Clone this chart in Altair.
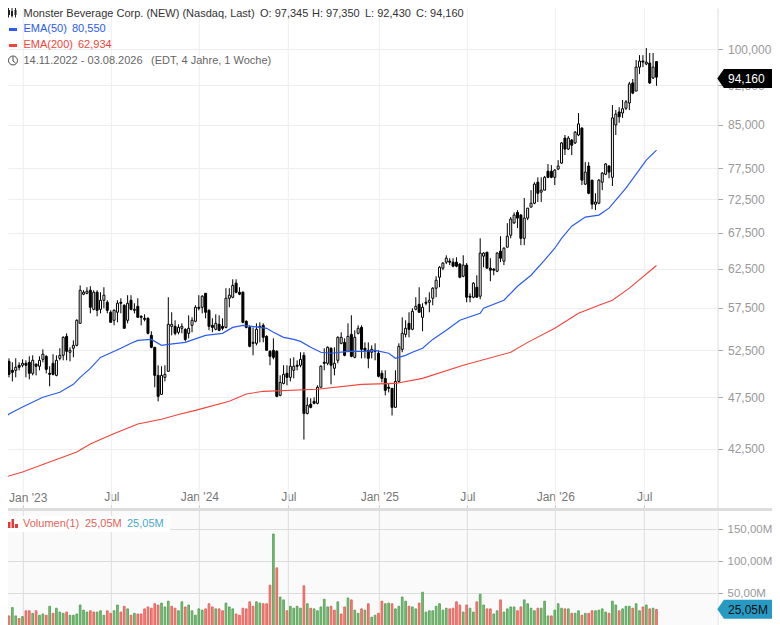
import json
import altair as alt
import pandas as pd

body_high = [49.75,51.6,51.93,51.27,50.29,50.62,50.84,51.05,51.05,51.16,
51.38,50.95,51.38,52.05,51.82,49.97,51.05,51.38,51.93,53.97,
54.08,52.49,53.05,55.97,59.69,59.43,59.56,59.69,59.43,59.43,
58.42,59.06,58.17,56.94,57.18,58.05,58.17,57.8,58.05,58.42,
57.3,57.67,56.45,56.21,56.21,54.2,52.83,49.75,49.75,49.86,
55.49,55.49,55.25,55.13,55.25,54.9,55.02,55.97,57.55,57.55,
58.93,59.3,57.18,55.37,55.61,55.49,55.25,58.67,59.06,60.3,
60.6,59.43,59.43,55.85,55.13,53.39,54.9,55.25,55.37,54.08,
52.38,52.49,52.38,49.0,49.86,49.97,50.73,50.73,50.84,51.49,
51.93,46.66,46.76,47.06,48.5,50.73,51.16,52.83,52.72,51.05,
53.97,53.97,53.39,54.08,54.31,53.97,55.02,55.13,52.72,52.49,
52.6,52.49,52.16,49.97,49.43,48.5,48.39,49.11,52.94,54.43,
55.02,55.61,57.06,57.67,57.92,57.55,58.17,58.42,59.95,60.98,
62.7,63.25,63.92,63.52,63.38,63.38,63.12,62.98,62.98,58.93,
60.6,60.07,64.62,64.62,64.75,62.57,62.44,64.62,64.89,65.3,
67.0,69.5,70.1,70.5,70.1,69.65,71.15,71.9,74.9,75.2,
73.94,76.0,77.0,77.0,77.18,77.85,81.8,82.65,82.65,82.3,
83.7,85.2,84.43,76.85,77.85,75.54,72.08,75.54,76.68,78.2,
77.85,86.3,87.0,87.4,88.0,89.3,92.8,93.0,96.2,97.46,
97.46,97.25,97.05,96.2,97.345]

body_low = [49.22,49.86,51.7,49.86,50.08,50.29,50.62,50.84,50.84,49.97,
49.97,50.73,50.73,51.49,50.4,49.86,49.86,49.75,51.6,51.93,
52.38,52.27,52.72,53.05,55.61,59.18,59.3,57.55,57.3,57.18,
57.3,58.42,57.18,55.73,55.97,56.94,58.05,55.02,55.97,57.3,
57.18,56.33,56.33,56.09,54.43,52.83,49.75,47.57,47.77,49.54,
50.18,55.25,54.43,54.55,55.02,53.73,54.43,55.37,55.85,57.43,
57.55,56.94,55.25,55.13,54.9,54.79,55.02,55.13,58.67,58.8,
59.43,59.18,55.73,55.13,52.94,53.28,53.28,55.13,53.97,52.49,
51.82,51.71,47.57,47.67,48.9,49.54,49.54,50.29,50.73,50.84,
45.86,45.86,46.46,46.86,46.86,48.5,51.05,51.05,50.84,50.51,
51.38,53.28,51.93,52.38,51.82,51.71,54.43,52.6,52.49,51.6,
52.27,52.38,49.65,49.43,48.18,48.39,46.46,46.46,49.11,52.6,
54.31,54.9,54.9,57.3,56.94,56.33,58.05,58.17,58.67,59.95,
61.37,62.57,63.38,63.38,62.84,62.84,61.37,61.5,58.8,58.8,
58.8,58.8,58.93,64.2,62.57,62.3,62.3,62.17,63.92,63.52,
65.44,67.14,68.93,69.65,66.7,66.7,69.65,71.3,71.9,73.45,
73.62,73.94,76.0,76.0,76.0,77.35,78.35,80.73,80.73,81.4,
81.8,83.2,75.54,74.9,73.45,71.75,71.75,71.9,75.2,76.5,
76.85,76.0,85.0,86.5,87.2,88.1,89.1,91.0,91.4,96.2,
97.25,96.84,93.0,94.0,94.16]

highs = [49.97,52.05,52.16,51.6,51.16,51.6,51.16,51.49,51.38,51.82,
51.93,51.05,51.82,52.6,51.93,50.73,52.05,51.93,52.72,54.08,
54.43,52.83,53.62,56.09,60.3,59.69,60.07,60.2,59.69,59.69,
59.43,60.07,58.42,57.18,57.3,58.42,58.67,57.92,59.06,59.06,
58.05,58.67,56.57,56.69,56.33,54.67,52.83,50.84,50.73,50.84,
58.8,56.94,55.97,55.49,55.61,55.02,56.57,56.33,57.8,59.06,
59.06,59.3,57.3,56.21,56.69,56.57,56.21,59.95,59.95,61.1,
61.1,60.07,59.56,55.97,55.37,55.13,55.61,55.73,55.61,54.2,
52.49,53.85,52.49,49.75,50.84,50.84,51.6,51.71,51.38,52.27,
52.27,47.47,47.37,47.47,48.7,50.84,52.72,52.94,52.83,52.83,
54.08,54.55,53.85,55.61,56.57,54.79,55.37,55.37,53.39,53.39,
53.05,53.28,52.49,50.29,50.29,48.9,48.39,50.29,53.28,56.33,
55.97,56.94,57.43,58.8,60.07,58.05,58.8,59.43,60.07,61.5,
62.83,63.38,64.32,63.92,63.92,64.05,63.25,64.32,63.25,59.3,
60.72,61.63,66.7,64.75,64.75,63.92,62.57,64.75,67.0,65.44,
68.9,69.8,70.5,70.84,70.25,72.7,71.15,73.94,75.2,76.0,
76.0,76.2,78.2,78.0,77.35,78.85,81.95,83.2,83.0,82.5,
83.9,87.2,84.6,78.5,78.5,75.54,73.45,75.7,76.85,78.35,
78.0,88.7,87.76,88.3,89.66,89.66,93.2,93.8,97.67,98.7,
98.7,100.2,99.15,99.15,97.35]

lows = [48.28,49.75,49.54,49.54,49.11,49.54,50.29,50.62,49.54,49.33,
49.75,49.75,50.29,51.16,49.97,48.6,49.75,49.65,51.38,51.38,
51.38,51.27,51.71,52.94,55.61,59.06,59.18,56.81,57.18,56.45,
56.81,57.43,56.81,55.73,55.37,55.73,56.81,55.02,55.61,57.18,
56.81,56.33,55.37,55.85,54.31,52.72,48.5,47.06,47.77,49.11,
50.18,54.2,54.2,54.31,54.43,53.5,53.85,54.55,55.73,57.18,
56.81,56.21,54.79,54.55,54.79,54.67,54.79,55.02,57.55,58.67,
59.3,59.06,55.61,55.02,52.83,51.93,53.05,53.39,53.39,52.49,
50.84,51.49,47.47,47.57,48.8,48.7,49.11,49.43,50.29,50.62,
43.37,45.76,46.36,46.76,46.76,48.5,50.29,50.84,48.8,49.75,
51.05,53.17,51.82,52.27,51.71,51.6,54.31,51.6,51.6,50.51,
51.6,51.38,49.54,49.0,47.67,47.97,45.66,46.46,49.0,52.27,
53.97,53.97,54.79,57.18,56.94,54.67,57.8,56.94,57.8,58.8,
60.07,62.3,63.12,62.98,62.7,62.7,61.24,61.37,58.17,58.17,
58.67,58.8,58.55,62.7,62.57,60.85,61.63,62.04,63.38,62.98,
65.44,66.7,68.8,68.16,65.73,65.73,69.34,71.3,71.75,72.08,
72.08,73.94,75.85,75.85,74.75,77.18,78.2,79.7,80.56,79.7,
81.6,83.0,74.75,74.75,73.3,71.0,70.84,71.75,73.94,76.35,
75.85,74.6,83.2,85.4,86.3,87.76,87.76,90.8,91.4,94.8,
96.2,96.6,92.8,93.8,92.43]

rising = ("UUDDDUDUDD" "UDUUDDDUUU" "DUUUUUUDUD" "UUDDUUDDUD" "UDDDDDDDUU"
          "UUDUUDUUUD" "UDDDUDDUUU" "DDDDDUUUDD" "DDDUUDUUDU" "DUDDUUDUDU"
          "UUDUDUUDDD" "UDDDDDDUUU" "UDUUDUDUUU" "UUUDDDDUDD" "UDUUDDDUDU"
          "UUUDDUUUUD" "UUDDUUUDUD" "UUDUDDUUUU" "DUUDUUUDUU" "DUDUD")

volumes = [12,18,27,15,28,15,11,14,23,23,19,
23,16,18,16,30,19,27,21,19,21,
16,16,18,32,24,21,23,21,21,23,
16,23,19,23,32,21,30,26,16,19,
18,18,26,29,27,34,32,35,29,38,
30,27,23,37,29,32,23,16,26,24,
26,34,29,26,26,23,35,29,26,18,
16,27,26,37,30,37,35,34,34,63,
143,90,44.5,40,23,30,27,30,27,62,
34,27,26,23,29,41,29,30,24,37,
18,29,43,40,24,19,26,24,34,13,
16,19,38,34,35,
34,26,30,44.5,38,30,29,26,35,52,
21,23,23,30,34,24,27,26,27,37,
32,21,32,27,21,37,49,32,26,26,
18,23,40,21,26,29,29,23,29,40,
34,27,23,27,27,38,15,15,24,34,
27,26,26,19,19,23,16,19,19,23,
23,24,26,21,19,38,32,23,26,30,
30,27,34,23,29,32,26,27,25.05]

vol_side = ("G" "GGRGGRGRRG" "RGGRGRGGGR" "GGGGGGRRGG" "GRRGGRRGRG"
            "RRRRRRRGGG" "RRGGRGGGGG" "RRRGRRGGGR" "RRRRRGGRRR"
            "GRGGRGGGGR" "GRGGGGGRRG" "RRGRGGRGRG" "GRRGG"
            "RGGGGRGGRG" "GGGGGGGRRR" "RGRGGRGGRR" "GGRGGGGRRG"
            "GGGRGGGRGG" "GRGRGGRGRR" "GGGGRGGRGG" "GRGGRGRGR")

ema50_idx = [0,3,7,13,18,22,24,27,30,36,39,41,45,48,50,55,61,66,69,72,77,79,81,84,87,89,92,95,98,103,108,111,115,117,120,122,125,128,132,136,142,143,149,153,157,161,164,166,169,173,177,180,185,191,194]
ema50_val = [44.9,45.8,46.5,47.47,47.98,48.8,49.54,50.5,51.7,52.72,53.28,53.62,53.73,53.05,53.17,53.39,54.2,54.43,55.13,55.37,55.13,55.02,54.55,53.97,53.73,53.5,52.83,52.27,52.16,52.38,52.38,52.49,52.16,51.6,51.93,52.27,52.72,53.73,54.79,55.97,56.81,57.43,58.42,60.2,61.63,63.65,65.3,66.7,68.45,69.8,70.1,71.15,74.25,78.85,80.55]
ema200_idx = [0,7,15,23,27,33,41,48,53,58,68,73,78,94,107,117,125,137,151,156,164,171,177,181,186,194]
ema200_val = [39.86,40.46,41.34,42.23,42.96,43.8,44.84,45.3,45.76,46.16,47.06,47.8,48.08,48.3,48.8,48.9,49.43,50.84,52.27,53.39,55.02,56.81,57.8,58.42,59.95,62.93]

price_ticks = [42.5,47.5,52.5,57.5,62.5,67.5,72.5,77.5,85,92.5,100]
vol_ticks = [50,100,150]
time_ticks = [7.23,33.2,59.15,85.4,112.25,138.2,164.15,190.4]
time_labels = ["Jan '23","Jul","Jan '24","Jul","Jan '25","Jul","Jan '26","Jul"]

FONT = "Liberation Sans"
W, H = 709.5, 617
PANEL = 500
VTOP = 503

df = pd.DataFrame({"i": range(len(highs)), "bh": body_high, "bl": body_low, "hi": highs, "lo": lows,
                   "fill": ["white" if s == "U" else "black" for s in rising]})
vdf = pd.DataFrame({"i": range(len(volumes)), "vol": volumes,
                    "fill": ["#7cbe7c" if s == "G" else "#f0837d" for s in vol_side],
                    "stroke": ["#57a157" if s == "G" else "#e85f58" for s in vol_side]})
tdf = pd.DataFrame({"i": time_ticks})
e50 = pd.DataFrame({"i": ema50_idx, "v": ema50_val})
e200 = pd.DataFrame({"i": ema200_idx, "v": ema200_val})
one = pd.DataFrame({"a": [0]})

xs = alt.Scale(domain=[2.714, 212.0], nice=False, zero=False, padding=0)
# the first label would be cut by the page margin, so it is drawn separately just inside the chart
label_expr = "%s[indexof(%s, datum.value)]" % (json.dumps([""] + time_labels[1:]), json.dumps(time_ticks))
x_axis = alt.Axis(orient="top", offset=-PANEL, values=time_ticks, labelExpr=label_expr, title=None, grid=False,
                  domain=False, tickSize=3, tickColor="#555555", labelColor="#777777", labelFont=FONT,
                  labelFontSize=12, labelPadding=2, labelOverlap=False, labelFlush=False, labelBound=False)
X = alt.X("i:Q", scale=xs, axis=x_axis)

ps = alt.Scale(type="log", domain=[37.46, 109.17], range=[PANEL, 0], nice=False)
p_axis = alt.Axis(orient="right", values=price_ticks, title=None, grid=True, gridColor="#eeeeee", gridWidth=1,
                  domainColor="#dddddd", tickColor="#aaaaaa", tickSize=5, labelColor="#999999", labelFont=FONT,
                  labelFontSize=12, labelPadding=5, labelOverlap=False, labelFlush=False, labelBound=False,
                  labelExpr="replace(format(datum.value,'.3f'),'.',',')")
vs = alt.Scale(domain=[0, 178.9], range=[617.5, VTOP], nice=False, zero=True)
v_axis = alt.Axis(orient="right", values=vol_ticks, title=None, grid=False, domainColor="#dddddd",
                  tickColor="#aaaaaa", tickSize=5, labelColor="#999999", labelFont=FONT, labelFontSize=11.5,
                  labelPadding=4.5, labelOverlap=False, labelFlush=False, labelBound=False,
                  labelExpr="replace(format(datum.value,'.2f'),'.',',')+'M'")


def S(v):
    return v - 8


def rect(x1, y1, x2, y2, color):
    return alt.Chart(one).mark_rect(color=color).encode(
        x=alt.value(S(x1)), x2=alt.value(S(x2)), y=alt.value(S(y1)), y2=alt.value(S(y2)))


def line(x1, y1, x2, y2, color, w=1):
    return alt.Chart(one).mark_rule(color=color, strokeWidth=w).encode(
        x=alt.value(S(x1)), x2=alt.value(S(x2)), y=alt.value(S(y1)), y2=alt.value(S(y2)))


def txt(x, y, s, color, size=11):
    return alt.Chart(one).mark_text(text=s, color=color, fontSize=size, font=FONT, align="left",
                                    baseline="middle").encode(x=alt.value(S(x)), y=alt.value(S(y)))


def tag(cx, cy, color):
    return alt.Chart(one).mark_point(shape="M-3.32,0L-2.62,-1L3.32,-1L3.32,1L-2.62,1Z", size=361, filled=True,
                                     fill=color, stroke=None, opacity=1).encode(
        x=alt.value(S(cx)), y=alt.value(S(cy)))


# volume panel
vol_layer = alt.layer(
    rect(0, 511, 717.5, 625, "#fafafa"),
    alt.Chart(tdf).mark_rule(color="#dddddd").encode(x=X, y=alt.value(VTOP), y2=alt.value(H)),
    alt.Chart(pd.DataFrame({"v": vol_ticks})).mark_rule(color="#dddddd").encode(
        y=alt.Y("v:Q", scale=vs, axis=v_axis), x=alt.value(0), x2=alt.value(W)),
    alt.Chart(vdf).mark_bar(size=1.7, strokeWidth=0.9).encode(
        x=X, y=alt.Y("vol:Q", scale=vs, axis=v_axis),
        fill=alt.Fill("fill:N", scale=None), stroke=alt.Stroke("stroke:N", scale=None)),
)

# price panel
P = alt.Y("lo:Q", scale=ps, axis=p_axis)
price_layer = alt.layer(
    alt.Chart(tdf).mark_rule(color="#eeeeee").encode(x=X, y=alt.value(0), y2=alt.value(PANEL)),
    alt.Chart(df).mark_rule(color="black", strokeWidth=1).encode(x=X, y=P, y2="hi:Q"),
    alt.Chart(df).mark_bar(size=2, stroke="black", strokeWidth=1).encode(
        x=X, y=alt.Y("bl:Q", scale=ps, axis=p_axis), y2="bh:Q", fill=alt.Fill("fill:N", scale=None)),
    alt.Chart(e200).mark_line(color="#f4433a", strokeWidth=1.1).encode(x=X, y=alt.Y("v:Q", scale=ps, axis=p_axis)),
    alt.Chart(e50).mark_line(color="#2a5cf0", strokeWidth=1.2).encode(x=X, y=alt.Y("v:Q", scale=ps, axis=p_axis)),
)

overlay = alt.layer(
    rect(0, 508, 780, 511, "#dddddd"),
    txt(9, 497.5, time_labels[0], "#777777", 12),
    txt(23.5, 14, "Monster Beverage Corp. (NEW) (Nasdaq, Last)", "#333333"),
    txt(260, 14, "O: 97,345", "#333333"),
    txt(312, 14, "H: 97,350", "#333333"),
    txt(365, 14, "L: 92,430", "#333333"),
    txt(416, 14, "C: 94,160", "#333333"),
    txt(23.5, 29, "EMA(50)", "#2a5cf0"),
    txt(72, 29, "80,550", "#2a5cf0"),
    txt(23.5, 45, "EMA(200)", "#f4433a"),
    txt(78, 45, "62,934", "#f4433a"),
    txt(23.5, 61, "14.11.2022 - 03.08.2026", "#666666"),
    txt(151, 61, "(EDT, 4 Jahre, 1 Woche)", "#666666"),
    rect(9, 28, 17, 31, "#2a5cf0"),
    rect(9, 44, 17, 47, "#f4433a"),
    line(8.5, 8, 8.5, 17.5, "#222222"), rect(8, 10, 10, 15, "#222222"),
    line(12, 7, 12, 17.5, "#222222"), rect(11, 11, 13, 16, "#222222"),
    line(15.5, 8, 15.5, 17.5, "#222222"), rect(14.5, 10, 16.5, 15, "#222222"),
    alt.Chart(one).mark_point(shape="circle", size=80, filled=False, stroke="#444444", strokeWidth=1, opacity=1).encode(
        x=alt.value(S(13)), y=alt.value(S(60.5))),
    line(13, 57, 13, 61, "#444444"),
    line(13, 61, 15.5, 63, "#444444"),
    rect(5, 516, 170, 532, "#ffffff"),
    rect(8, 522, 10.5, 528, "#e53935"), rect(11.5, 519, 14, 528, "#e53935"), rect(15, 524, 18, 528, "#e53935"),
    txt(23, 524, "Volumen(1)", "#e85f58"),
    txt(85, 524, "25,05M", "#e85f58"),
    txt(127, 524, "25,05M", "#4aa8d0"),
    tag(748.8, 78.4, "#000000"),
    txt(728, 78.5, "94,160", "#ffffff", 12),
    tag(748.8, 609.3, "#279ac4"),
    txt(728, 609.5, "25,05M", "#111111", 12),
)

chart = (
    alt.layer(vol_layer, price_layer, overlay)
    .resolve_scale(y="independent")
    .properties(width=W, height=H, padding={"left": 0, "top": 0, "right": 54.5, "bottom": 0},
                autosize=alt.AutoSizeParams(type="none"))
    .configure_view(stroke=None)
)

chart.save("out.html", embed_options={"renderer": "svg", "actions": False})
